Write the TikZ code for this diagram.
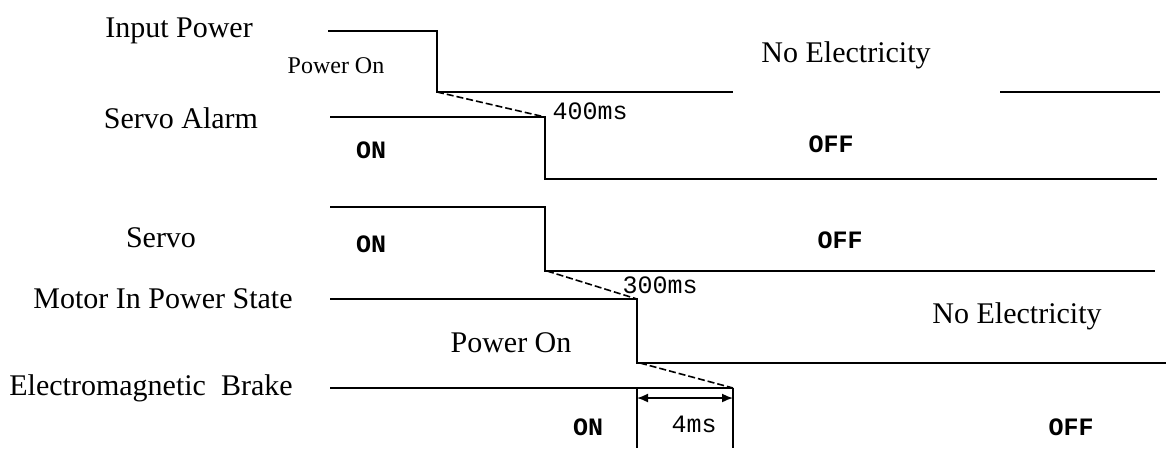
\documentclass[tikz,border=0pt]{standalone}
\usepackage{fontspec}
\setmainfont{Liberation Serif}
\newfontfamily\monof{Liberation Mono}
\usetikzlibrary{arrows.meta}
\tikzset{
  wave/.style={line width=1.7pt, black},
  slope/.style={line width=1.6pt, dash pattern=on 7pt off 3pt},
  lbl/.style={anchor=base, inner sep=0pt, font=\fontsize{30}{36}\selectfont},
  smalllbl/.style={anchor=base, inner sep=0pt, font=\fontsize{24}{28}\selectfont},
  mono/.style={anchor=base, inner sep=0pt, font=\monof\fontsize{25}{30}\selectfont},
  monob/.style={anchor=base, inner sep=0pt, font=\monof\bfseries\fontsize{25}{30}\selectfont},
  dim/.style={line width=1.6pt, {Latex[length=11pt,width=9pt]}-{Latex[length=11pt,width=9pt]}}
}
\begin{document}
\begin{tikzpicture}[x=1pt,y=-1pt]
\useasboundingbox (0,0) rectangle (1166,448);
% labels
\node[lbl] (lip) at (179,37) {Input Power};
\node[lbl] (lsa) at (181,128) {Servo Alarm};
\node[lbl] (lsr) at (161,247) {Servo};
\node[lbl] (lmp) at (163,308) {Motor In Power State};
\node[lbl] (lbr) at (151,395) {Electromagnetic\ \ Brake};
% state texts
\node[smalllbl] (pon1) at (336,73) {Power On};
\node[lbl] (ne1) at (846,62) {No Electricity};
\node[monob] (on1) at (371,158) {ON};
\node[monob] (off1) at (831,152) {OFF};
\node[mono] (t400) at (590,119) {400ms};
\node[monob] (on2) at (371,252) {ON};
\node[monob] (off2) at (840,248) {OFF};
\node[mono] (t300) at (660,293) {300ms};
\node[lbl] (pon2) at (511,352) {Power On};
\node[lbl] (ne2) at (1017,323) {No Electricity};
\node[monob] (on3) at (588,435) {ON};
\node[mono] (t4) at (694,432) {4ms};
\node[monob] (off3) at (1071,435) {OFF};
% Input power
\draw[wave] (328,31) -- (437,31) -- (437,92) -- (733,92);
\draw[wave] (1000,92) -- (1160,92);
\draw[slope] (437,92) -- (545,117);
% Servo alarm
\draw[wave] (330,117) -- (545,117) -- (545,179) -- (1157,179);
% Servo ready
\draw[wave] (330,207) -- (545,207) -- (545,271) -- (1155,271);
\draw[slope] (547,271) -- (637,299);
% Motor
\draw[wave] (330,299) -- (637,299) -- (637,363) -- (1166,363);
\draw[slope] (640,363) -- (733,388);
% Brake
\draw[wave] (330,388) -- (733,388);
\coordinate (bl) at (637,388);
\coordinate (br) at (733,388);
\draw[wave] (bl) -- (637,448);
\draw[wave] (br) -- (733,448);
\coordinate (al) at (637,398);
\coordinate (ar) at (733,398);
\draw[dim] (al) -- (ar);
\end{tikzpicture}
\end{document}
